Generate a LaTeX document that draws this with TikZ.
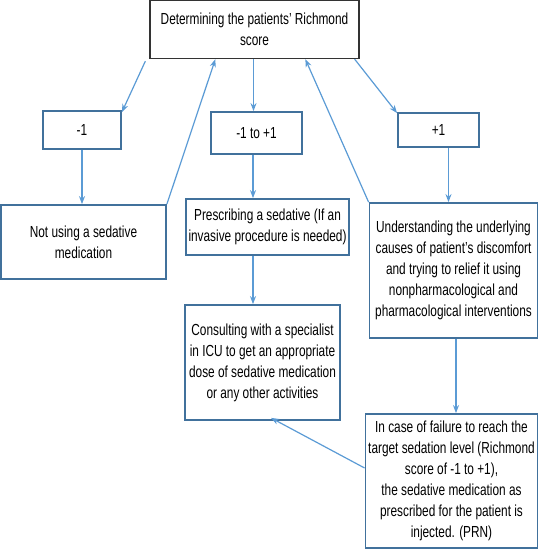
\documentclass[tikz,border=0pt]{standalone}
\usepackage{fontspec}
\setmainfont{Liberation Sans}[FakeStretch=0.74]
\usetikzlibrary{arrows.meta}
\definecolor{lineblue}{HTML}{5B9BD5}
\definecolor{boxblue}{HTML}{41719C}
\begin{document}
\begin{tikzpicture}[x=1pt,y=-1pt,
  txt/.style={align=center, inner sep=0pt, font=\fontsize{16}{21}\selectfont},
  topbox/.style={txt, draw=black!80, line width=1.3pt},
  bluebox/.style={txt, draw=boxblue, line width=1.8pt},
  arr/.style={draw=lineblue, line width=1.2pt, -{Stealth[length=8pt,width=6pt]}}]
\useasboundingbox (0,0) rectangle (539,550);
\node[topbox, minimum width=209pt, minimum height=58pt] (top) at (254.5,29.5) {Determining the patients' Richmond\\score};
\node[bluebox, minimum width=78pt, minimum height=38pt] (m1) at (82,130) {-1};
\node[bluebox, minimum width=91pt, minimum height=42pt] (mid) at (256.5,133) {-1 to +1};
\node[bluebox, minimum width=81pt, minimum height=34pt] (p1) at (438.5,130) {+1};
\node[bluebox, minimum width=165pt, minimum height=74pt] (notuse) at (83.5,242) {Not using a sedative\\medication};
\node[bluebox, minimum width=163pt, minimum height=56pt] (presc) at (267.5,227) {Prescribing a sedative (If an\\invasive procedure is needed)};
\node[bluebox, minimum width=168pt, minimum height=135pt] (under) at (453.5,270.5) {Understanding the underlying\\causes of patient’s discomfort\\and trying to relief it using\\nonpharmacological and\\pharmacological interventions};
\node[bluebox, minimum width=155pt, minimum height=115pt] (consult) at (262.5,362.5) {Consulting with a specialist\\in ICU to get an appropriate\\dose of sedative medication\\or any other activities};
\node[bluebox, minimum width=172pt, minimum height=134pt] (incase) at (451.5,481) {In case of failure to reach the\\target sedation level (Richmond\\score of -1 to +1),\\the sedative medication as\\prescribed for the patient is\\injected. (PRN)};
% connectors
\draw[arr] ([xshift=-4pt,yshift=-2pt]top.south west) -- ([yshift=-2pt]m1.north east);
\draw[arr] (notuse.north east) -- ([xshift=66pt]top.south west);
\draw[arr] ([xshift=-1pt]top.south) -- ([xshift=-1pt]top.south |- mid.north);
\draw[arr] (under.north west) -- ([xshift=156pt]top.south west);
\draw[arr] ([xshift=-5pt]top.south east) -- ([yshift=-1pt]p1.north west);
\draw[arr] (m1.south) -- (m1.south |- notuse.north);
\draw[arr] ([xshift=-3.5pt]mid.south) -- ([xshift=-3.5pt]mid.south |- presc.north);
\draw[arr] ([xshift=10pt]p1.south) -- ([xshift=10pt]p1.south |- under.north);
\draw[arr] ([xshift=-14.5pt]presc.south) -- ([xshift=-14.5pt]presc.south |- consult.north);
\draw[arr] ([xshift=2.5pt]under.south) -- ([xshift=2.5pt]under.south |- incase.north);
\draw[arr] ([yshift=13pt]incase.west) -- ([xshift=8.5pt,yshift=3pt]consult.south);
\end{tikzpicture}
\end{document}
